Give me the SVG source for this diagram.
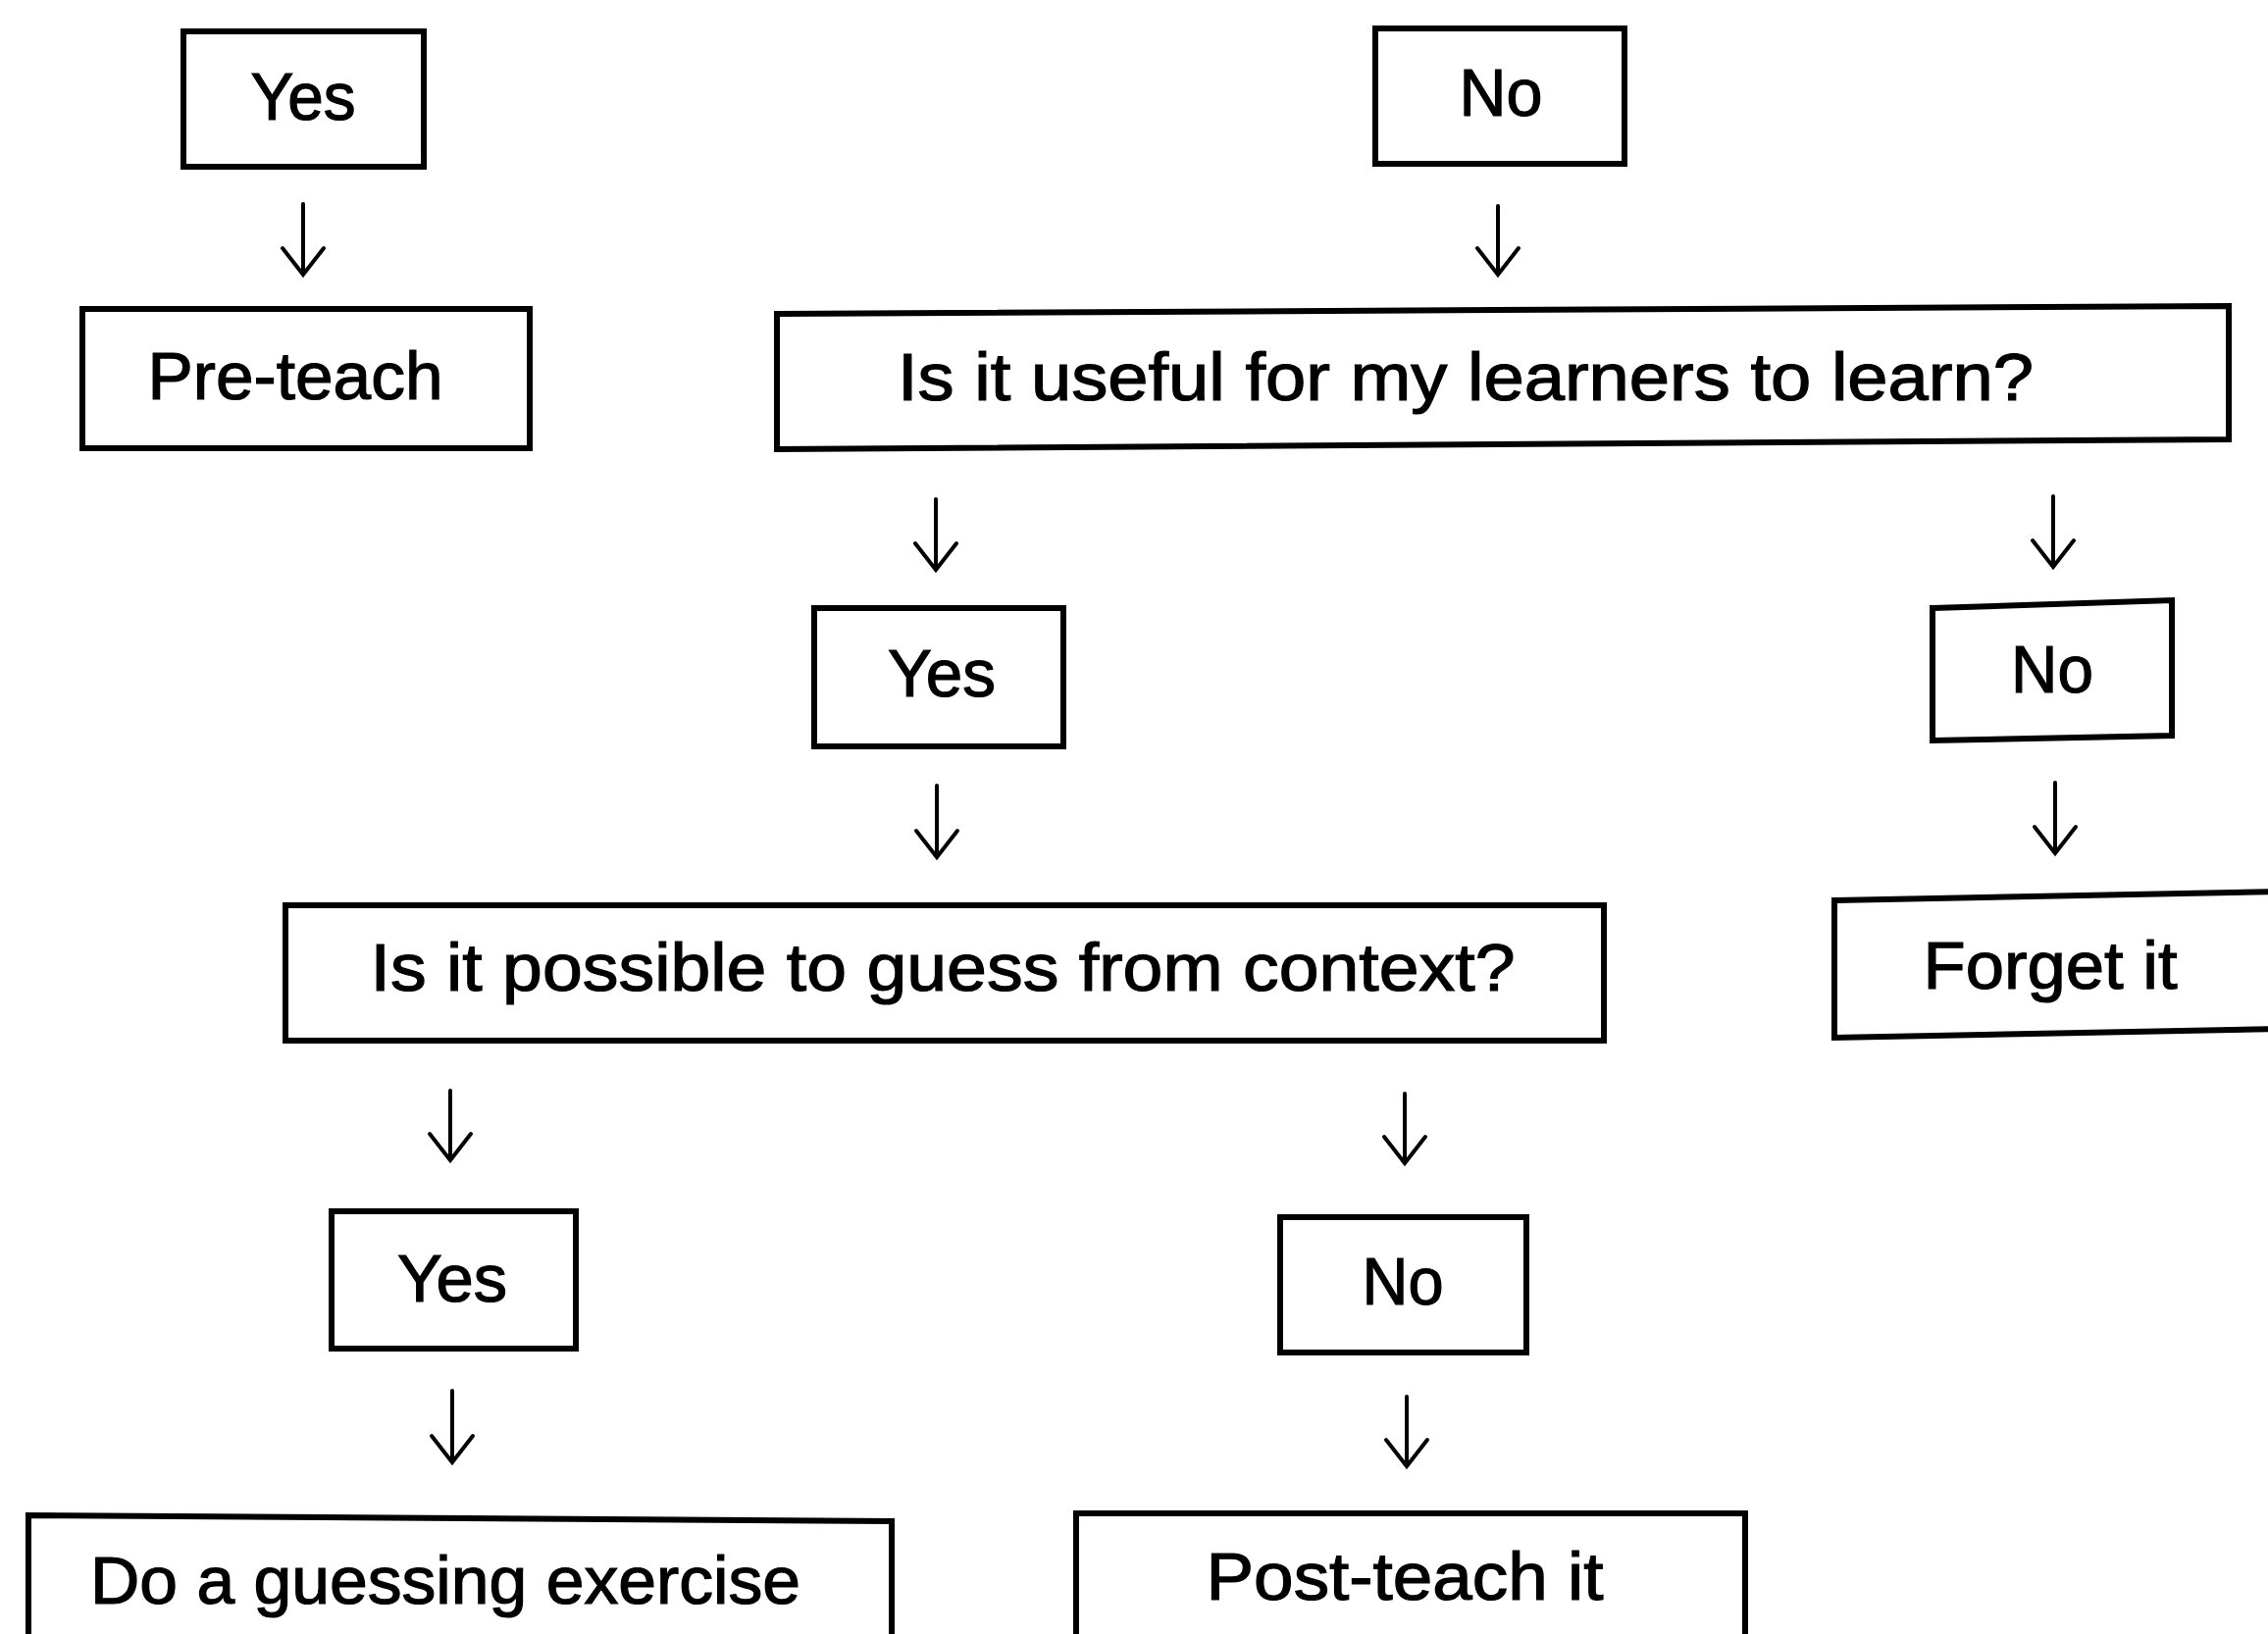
<svg xmlns="http://www.w3.org/2000/svg" width="2312" height="1666" viewBox="0 0 2312 1666">
<style>
.box{fill:none;stroke:#000;stroke-width:6;stroke-linejoin:miter}
.lbl{font-family:"Liberation Sans",Arial,sans-serif;font-size:68px;fill:#000;stroke:#000;stroke-width:1.2;text-anchor:middle}
.arr{fill:none;stroke:#000;stroke-width:4;stroke-linecap:round;stroke-linejoin:miter}
</style>
<rect width="2312" height="1666" fill="#fff"/>
<g id="connectors">
<path class="arr" d="M309 208V280M288 253L309 280L330 253"/>
<path class="arr" d="M1527 210V280M1506 253L1527 280L1548 253"/>
<path class="arr" d="M954 509V581M933 554L954 581L975 554"/>
<path class="arr" d="M2093 506V578M2072 551L2093 578L2114 551"/>
<path class="arr" d="M955 801V874M934 847L955 874L976 847"/>
<path class="arr" d="M2095 798V870M2074 843L2095 870L2116 843"/>
<path class="arr" d="M459 1112V1183M438 1156L459 1183L480 1156"/>
<path class="arr" d="M1432 1115V1186M1411 1159L1432 1186L1453 1159"/>
<path class="arr" d="M461 1418V1491M440 1464L461 1491L482 1464"/>
<path class="arr" d="M1434 1424V1495M1413 1468L1434 1495L1455 1468"/>
</g>
<g id="n1">
<rect class="box" x="187" y="32" width="245" height="138"/>
<text class="lbl" x="309" y="122" textLength="107" lengthAdjust="spacingAndGlyphs">Yes</text>
</g>
<g id="n2">
<rect class="box" x="1402" y="29" width="254" height="138"/>
<text class="lbl" x="1530" y="118" textLength="85" lengthAdjust="spacingAndGlyphs">No</text>
</g>
<g id="n3">
<rect class="box" x="84" y="315" width="456" height="142"/>
<text class="lbl" x="301" y="407" textLength="301" lengthAdjust="spacingAndGlyphs">Pre-teach</text>
</g>
<g id="n4">
<polygon class="box" points="792,320 2272,312 2272,448 792,458"/>
<text class="lbl" x="1494" y="408" textLength="1158" lengthAdjust="spacingAndGlyphs">Is it useful for my learners to learn?</text>
</g>
<g id="n5">
<rect class="box" x="830" y="620" width="254" height="141"/>
<text class="lbl" x="960" y="710" textLength="110" lengthAdjust="spacingAndGlyphs">Yes</text>
</g>
<g id="n6">
<polygon class="box" points="1970,620 2214,612 2214,750 1970,755"/>
<text class="lbl" x="2092" y="706" textLength="84" lengthAdjust="spacingAndGlyphs">No</text>
</g>
<g id="n7">
<rect class="box" x="291" y="923" width="1344" height="138"/>
<text class="lbl" x="961" y="1010" textLength="1167" lengthAdjust="spacingAndGlyphs">Is it possible to guess from context?</text>
</g>
<g id="n8">
<polygon class="box" points="1870,918 2330,909 2330,1049 1870,1058"/>
<text class="lbl" x="2090" y="1008" textLength="259" lengthAdjust="spacingAndGlyphs">Forget it</text>
</g>
<g id="n9">
<rect class="box" x="338" y="1235" width="249" height="140"/>
<text class="lbl" x="461" y="1327" textLength="112" lengthAdjust="spacingAndGlyphs">Yes</text>
</g>
<g id="n10">
<rect class="box" x="1305" y="1241" width="251" height="138"/>
<text class="lbl" x="1430" y="1330" textLength="83" lengthAdjust="spacingAndGlyphs">No</text>
</g>
<g id="n11">
<polygon class="box" points="29,1545 909,1551 909,1690 29,1690"/>
<text class="lbl" x="454" y="1635" textLength="724" lengthAdjust="spacingAndGlyphs">Do a guessing exercise</text>
</g>
<g id="n12">
<rect class="box" x="1097" y="1543" width="682" height="150"/>
<text class="lbl" x="1432" y="1631" textLength="405" lengthAdjust="spacingAndGlyphs">Post-teach it</text>
</g>
</svg>
